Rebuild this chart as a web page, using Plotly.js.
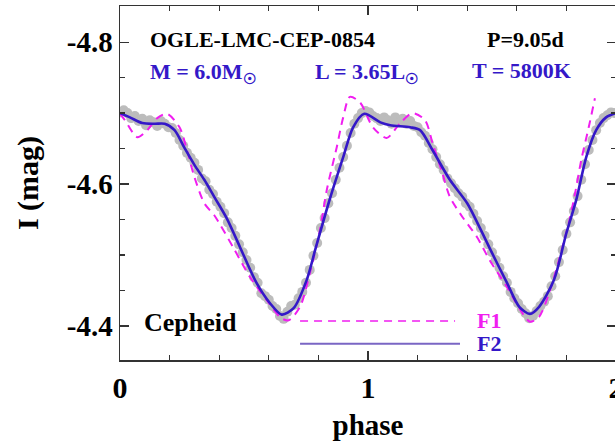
<!DOCTYPE html>
<html>
<head>
<meta charset="utf-8">
<script src="https://cdn.plot.ly/plotly-3.0.1.min.js"></script>
<style>
html, body { margin: 0; padding: 0; overflow: hidden; background: #fff; }
#chart { width: 620px; height: 441px; }
</style>
</head>
<body>
<div id="chart"></div>
<script>
// Observed light curve (grey points): phase and I magnitude
const obsPhase = [0.000,0.015,0.03,0.045,0.06,0.075,0.09,0.105,0.12,0.135,0.15,0.165,0.18,0.195,0.21,0.225,0.24,0.255,0.27,0.285,0.30,0.315,0.33,0.345,0.36,0.375,0.39,0.405,0.42,0.435,0.45,0.465,0.48,0.495,0.51,0.525,0.54,0.555,0.57,0.585,0.60,0.615,0.63,0.645,0.66,0.675,0.69,0.705,0.72,0.735,0.75,0.765,0.78,0.795,0.81,0.825,0.84,0.855,0.87,0.885,0.90,0.915,0.93,0.945,0.96,0.975,0.99,
  1.005,1.02,1.035,1.05,1.065,1.08,1.095,1.11,1.125,1.14,1.155,1.17,1.185,1.20,1.215,1.23,1.245,1.26,1.275,1.29,1.305,1.32,1.335,1.35,1.365,1.38,1.395,1.41,1.425,1.44,1.455,1.47,1.485,1.50,1.515,1.53,1.545,1.56,1.575,1.59,1.605,1.62,1.635,1.65,1.665,1.68,1.695,1.71,1.725,1.74,1.755,1.77,1.785,1.80,1.815,1.83,1.845,1.86,1.875,1.89,1.905,1.92,1.935,1.95,1.965,1.98,1.995];
const obsMag = [-4.701,-4.704,-4.700,-4.693,-4.696,-4.689,-4.692,-4.683,-4.690,-4.687,-4.682,-4.689,-4.685,-4.680,-4.679,-4.672,-4.662,-4.654,-4.644,-4.637,-4.630,-4.620,-4.608,-4.604,-4.592,-4.586,-4.575,-4.568,-4.559,-4.546,-4.538,-4.527,-4.515,-4.504,-4.493,-4.482,-4.469,-4.461,-4.446,-4.442,-4.437,-4.428,-4.424,-4.414,-4.410,-4.420,-4.428,-4.430,-4.439,-4.448,-4.461,-4.479,-4.499,-4.517,-4.538,-4.552,-4.573,-4.587,-4.606,-4.623,-4.638,-4.654,-4.672,-4.685,-4.693,-4.700,-4.703,
  -4.701,-4.696,-4.693,-4.689,-4.694,-4.690,-4.685,-4.694,-4.687,-4.692,-4.685,-4.689,-4.682,-4.680,-4.673,-4.668,-4.658,-4.649,-4.638,-4.628,-4.620,-4.608,-4.601,-4.594,-4.587,-4.582,-4.573,-4.568,-4.558,-4.548,-4.538,-4.527,-4.515,-4.504,-4.493,-4.482,-4.470,-4.461,-4.448,-4.439,-4.432,-4.424,-4.418,-4.411,-4.414,-4.421,-4.428,-4.434,-4.442,-4.456,-4.470,-4.490,-4.507,-4.530,-4.546,-4.562,-4.583,-4.606,-4.628,-4.648,-4.662,-4.676,-4.686,-4.693,-4.697,-4.701,-4.700];

// Model F1 (magenta dashed)
const f1Phase = [0.00,0.02,0.07,0.11,0.15,0.19,0.24,0.27,0.30,0.34,0.38,0.40,0.456,0.524,0.59,0.65,0.68,0.726,0.766,0.806,0.834,0.874,0.90,0.927,0.968,1.02,1.075,1.13,1.18,1.23,1.26,1.30,1.33,1.38,1.44,1.49,1.56,1.61,1.653,1.69,1.73,1.77,1.81,1.835,1.86,1.89,1.915];
const f1Mag = [-4.699,-4.690,-4.666,-4.676,-4.693,-4.699,-4.680,-4.648,-4.610,-4.573,-4.556,-4.545,-4.511,-4.469,-4.437,-4.411,-4.408,-4.427,-4.475,-4.535,-4.592,-4.652,-4.694,-4.723,-4.715,-4.680,-4.665,-4.686,-4.700,-4.690,-4.658,-4.615,-4.582,-4.554,-4.525,-4.493,-4.455,-4.425,-4.406,-4.413,-4.446,-4.493,-4.546,-4.587,-4.634,-4.680,-4.721];

// Model F2 (blue solid)
const f2Phase = [0.00,0.04,0.09,0.14,0.18,0.22,0.26,0.30,0.34,0.38,0.43,0.484,0.55,0.605,0.652,0.70,0.753,0.79,0.847,0.90,0.94,0.985,1.05,1.09,1.17,1.21,1.26,1.33,1.40,1.45,1.50,1.56,1.61,1.653,1.69,1.75,1.80,1.84,1.88,1.92,1.96,2.00];
const f2Mag = [-4.700,-4.694,-4.686,-4.685,-4.685,-4.676,-4.651,-4.627,-4.606,-4.582,-4.552,-4.511,-4.461,-4.432,-4.416,-4.425,-4.465,-4.511,-4.580,-4.638,-4.680,-4.699,-4.687,-4.683,-4.680,-4.676,-4.648,-4.606,-4.573,-4.539,-4.503,-4.461,-4.427,-4.417,-4.427,-4.465,-4.531,-4.578,-4.638,-4.676,-4.694,-4.700];

const xTickVals = [0, 1, 2];
const xTickText = ['0', '1', '2'];
const yTickVals = [-4.8, -4.6, -4.4];
const yTickText = ['-4.8', '-4.6', '-4.4'];

const SERIF = '"Liberation Serif", "Times New Roman", serif';
const BLUE = '#3418c8';
const MAGENTA = '#f01ef0';

const traces = [
  { x: obsPhase, y: obsMag, mode: 'markers', type: 'scatter',
    marker: { color: '#bcbcbc', size: 10, line: { width: 0 } }, hoverinfo: 'skip' },
  { x: f1Phase, y: f1Mag, mode: 'lines', type: 'scatter',
    line: { color: MAGENTA, width: 2, dash: '8px,6px', shape: 'spline', smoothing: 0.8 } },
  { x: f2Phase, y: f2Mag, mode: 'lines', type: 'scatter',
    line: { color: BLUE, width: 2.6, shape: 'spline', smoothing: 0.8 } }
];

function ann(text, x, y, color, size, xanchor) {
  return { text: text, x: x, y: y, xref: 'x', yref: 'y', showarrow: false,
    xanchor: xanchor || 'left', yanchor: 'middle',
    font: { family: SERIF, size: size, color: color, weight: 'bold' } };
}

const layout = {
  width: 620, height: 441,
  margin: { l: 120, r: 4, t: 6, b: 81 },
  paper_bgcolor: '#ffffff', plot_bgcolor: '#ffffff',
  showlegend: false,
  xaxis: {
    range: [0, 2], tickmode: 'array', tickvals: xTickVals, ticktext: xTickText,
    ticklabeloverflow: 'allow',
    ticks: 'inside', ticklen: 9, tickwidth: 1.3, tickcolor: '#333',
    minor: { dtick: 0.2, tick0: 0, ticks: 'inside', ticklen: 5, tickwidth: 1.3, tickcolor: '#333', showgrid: false },
    showline: true, linecolor: '#333', linewidth: 1.5, mirror: 'allticks',
    showgrid: false, zeroline: false,
    tickfont: { family: SERIF, size: 30, color: '#000', weight: 'bold' },
    title: { text: 'phase', font: { family: SERIF, size: 29, color: '#000', weight: 'bold' }, standoff: 12 }
  },
  yaxis: {
    range: [-4.352, -4.851], tickmode: 'array', tickvals: yTickVals, ticktext: yTickText,
    ticklabeloverflow: 'allow',
    ticks: 'inside', ticklen: 9, tickwidth: 1.3, tickcolor: '#333',
    minor: { dtick: 0.05, tick0: -4.8, ticks: 'inside', ticklen: 5, tickwidth: 1.3, tickcolor: '#333', showgrid: false },
    showline: true, linecolor: '#333', linewidth: 1.5, mirror: 'allticks',
    showgrid: false, zeroline: false,
    tickfont: { family: SERIF, size: 29, color: '#000', weight: 'bold' },
    title: { text: 'I (mag)', font: { family: SERIF, size: 30, color: '#000', weight: 'bold' }, standoff: 19 }
  },
  annotations: [
    ann('OGLE-LMC-CEP-0854', 0.113, -4.804, '#000', 22),
    ann('P=9.05d', 1.472, -4.804, '#000', 22),
    ann('M = 6.0M<sub>\u2609</sub>', 0.113, -4.757, BLUE, 22),
    ann('L = 3.65L<sub>\u2609</sub>', 0.778, -4.757, BLUE, 22),
    ann('T = 5800K', 1.411, -4.760, BLUE, 22),
    ann('Cepheid', 0.089, -4.405, '#000', 26),
    ann('F1', 1.431, -4.408, MAGENTA, 22),
    ann('F2', 1.431, -4.375, BLUE, 22)
  ],
  shapes: [
    { type: 'line', xref: 'x', yref: 'y', x0: 0.726, x1: 1.351, y0: -4.407, y1: -4.407,
      line: { color: MAGENTA, width: 1.5, dash: '8px,6px' } },
    { type: 'line', xref: 'x', yref: 'y', x0: 0.726, x1: 1.371, y0: -4.375, y1: -4.375,
      line: { color: '#7a66c4', width: 2 } }
  ]
};

Plotly.newPlot('chart', traces, layout, { displayModeBar: false, staticPlot: true });
</script>
</body>
</html>
